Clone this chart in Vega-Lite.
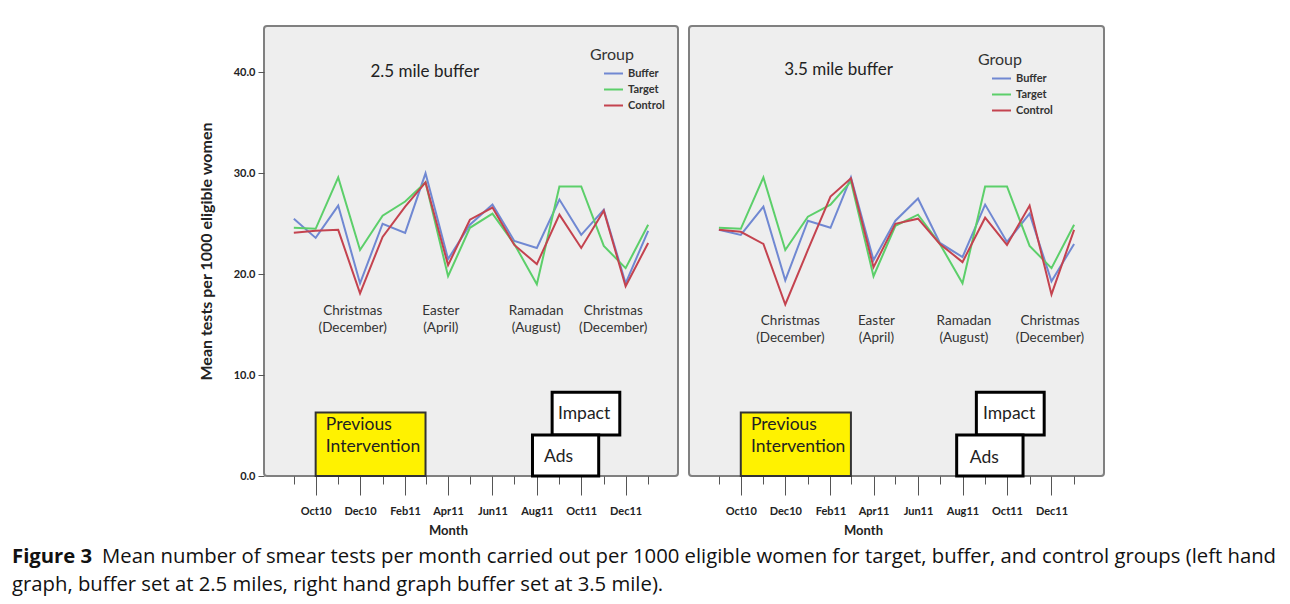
{
  "$schema": "https://vega.github.io/schema/vega-lite/v6.json",
  "background": "white",
  "padding": {"left": 12, "top": 25, "right": 0, "bottom": 8},
  "config": {
    "font": "Lato",
    "view": {"fill": "#eeeeee", "stroke": "#808080", "strokeWidth": 2, "cornerRadius": 3},
    "axis": {"domain": false, "grid": false, "tickColor": "#555555", "labelColor": "#222222", "labelFont": "Lato", "labelFontWeight": "bold", "labelFontSize": 11, "titleFont": "Lato", "titleFontWeight": "bold", "titleColor": "#222222"},
    "legend": {"orient": "none", "titleFont": "Lato", "titleFontSize": 16, "titleFontWeight": "normal", "titleColor": "#333333", "titleAnchor": "middle", "titleAlign": "right", "titlePadding": 0, "symbolType": "stroke", "symbolSize": 360, "symbolStrokeWidth": 2, "labelFont": "Lato", "labelFontSize": 11, "labelFontWeight": "bold", "labelColor": "#333333", "rowPadding": -3}
  },
  "title": {
    "text": "Figure 3",
    "subtitle": "graph, buffer set at 2.5 miles, right hand graph buffer set at 3.5 mile).",
    "orient": "bottom", "anchor": "start", "frame": "bounds", "dx": -89, "offset": -21,
    "font": "Open Sans", "fontSize": 20.3, "fontWeight": "bold", "color": "#111111",
    "subtitleFont": "Open Sans", "subtitleFontSize": 20.3, "subtitleFontWeight": "normal", "subtitleColor": "#111111",
    "subtitlePadding": 7
  },
  "datasets": {
    "series": [
      {"panel": "2.5 mile buffer", "group": "Buffer", "month": "2010-09-01", "value": 25.5},
      {"panel": "2.5 mile buffer", "group": "Buffer", "month": "2010-10-01", "value": 23.6},
      {"panel": "2.5 mile buffer", "group": "Buffer", "month": "2010-11-01", "value": 26.8},
      {"panel": "2.5 mile buffer", "group": "Buffer", "month": "2010-12-01", "value": 19.1},
      {"panel": "2.5 mile buffer", "group": "Buffer", "month": "2011-01-01", "value": 25.0},
      {"panel": "2.5 mile buffer", "group": "Buffer", "month": "2011-02-01", "value": 24.1},
      {"panel": "2.5 mile buffer", "group": "Buffer", "month": "2011-03-01", "value": 30.0},
      {"panel": "2.5 mile buffer", "group": "Buffer", "month": "2011-04-01", "value": 21.5},
      {"panel": "2.5 mile buffer", "group": "Buffer", "month": "2011-05-01", "value": 24.9},
      {"panel": "2.5 mile buffer", "group": "Buffer", "month": "2011-06-01", "value": 26.9},
      {"panel": "2.5 mile buffer", "group": "Buffer", "month": "2011-07-01", "value": 23.3},
      {"panel": "2.5 mile buffer", "group": "Buffer", "month": "2011-08-01", "value": 22.6},
      {"panel": "2.5 mile buffer", "group": "Buffer", "month": "2011-09-01", "value": 27.4},
      {"panel": "2.5 mile buffer", "group": "Buffer", "month": "2011-10-01", "value": 23.9},
      {"panel": "2.5 mile buffer", "group": "Buffer", "month": "2011-11-01", "value": 26.4},
      {"panel": "2.5 mile buffer", "group": "Buffer", "month": "2011-12-01", "value": 19.1},
      {"panel": "2.5 mile buffer", "group": "Buffer", "month": "2012-01-01", "value": 24.3},
      {"panel": "2.5 mile buffer", "group": "Target", "month": "2010-09-01", "value": 24.6},
      {"panel": "2.5 mile buffer", "group": "Target", "month": "2010-10-01", "value": 24.5},
      {"panel": "2.5 mile buffer", "group": "Target", "month": "2010-11-01", "value": 29.6},
      {"panel": "2.5 mile buffer", "group": "Target", "month": "2010-12-01", "value": 22.4},
      {"panel": "2.5 mile buffer", "group": "Target", "month": "2011-01-01", "value": 25.8},
      {"panel": "2.5 mile buffer", "group": "Target", "month": "2011-02-01", "value": 27.2},
      {"panel": "2.5 mile buffer", "group": "Target", "month": "2011-03-01", "value": 29.1},
      {"panel": "2.5 mile buffer", "group": "Target", "month": "2011-04-01", "value": 19.8},
      {"panel": "2.5 mile buffer", "group": "Target", "month": "2011-05-01", "value": 24.6},
      {"panel": "2.5 mile buffer", "group": "Target", "month": "2011-06-01", "value": 26.0},
      {"panel": "2.5 mile buffer", "group": "Target", "month": "2011-07-01", "value": 23.0},
      {"panel": "2.5 mile buffer", "group": "Target", "month": "2011-08-01", "value": 19.0},
      {"panel": "2.5 mile buffer", "group": "Target", "month": "2011-09-01", "value": 28.7},
      {"panel": "2.5 mile buffer", "group": "Target", "month": "2011-10-01", "value": 28.7},
      {"panel": "2.5 mile buffer", "group": "Target", "month": "2011-11-01", "value": 22.8},
      {"panel": "2.5 mile buffer", "group": "Target", "month": "2011-12-01", "value": 20.6},
      {"panel": "2.5 mile buffer", "group": "Target", "month": "2012-01-01", "value": 24.9},
      {"panel": "2.5 mile buffer", "group": "Control", "month": "2010-09-01", "value": 24.1},
      {"panel": "2.5 mile buffer", "group": "Control", "month": "2010-10-01", "value": 24.3},
      {"panel": "2.5 mile buffer", "group": "Control", "month": "2010-11-01", "value": 24.4},
      {"panel": "2.5 mile buffer", "group": "Control", "month": "2010-12-01", "value": 18.1},
      {"panel": "2.5 mile buffer", "group": "Control", "month": "2011-01-01", "value": 23.7},
      {"panel": "2.5 mile buffer", "group": "Control", "month": "2011-02-01", "value": 26.7},
      {"panel": "2.5 mile buffer", "group": "Control", "month": "2011-03-01", "value": 29.1},
      {"panel": "2.5 mile buffer", "group": "Control", "month": "2011-04-01", "value": 20.9},
      {"panel": "2.5 mile buffer", "group": "Control", "month": "2011-05-01", "value": 25.4},
      {"panel": "2.5 mile buffer", "group": "Control", "month": "2011-06-01", "value": 26.6},
      {"panel": "2.5 mile buffer", "group": "Control", "month": "2011-07-01", "value": 22.9},
      {"panel": "2.5 mile buffer", "group": "Control", "month": "2011-08-01", "value": 21.0},
      {"panel": "2.5 mile buffer", "group": "Control", "month": "2011-09-01", "value": 25.9},
      {"panel": "2.5 mile buffer", "group": "Control", "month": "2011-10-01", "value": 22.6},
      {"panel": "2.5 mile buffer", "group": "Control", "month": "2011-11-01", "value": 26.3},
      {"panel": "2.5 mile buffer", "group": "Control", "month": "2011-12-01", "value": 18.8},
      {"panel": "2.5 mile buffer", "group": "Control", "month": "2012-01-01", "value": 23.1},
      {"panel": "3.5 mile buffer", "group": "Buffer", "month": "2010-09-01", "value": 24.4},
      {"panel": "3.5 mile buffer", "group": "Buffer", "month": "2010-10-01", "value": 23.9},
      {"panel": "3.5 mile buffer", "group": "Buffer", "month": "2010-11-01", "value": 26.7},
      {"panel": "3.5 mile buffer", "group": "Buffer", "month": "2010-12-01", "value": 19.4},
      {"panel": "3.5 mile buffer", "group": "Buffer", "month": "2011-01-01", "value": 25.3},
      {"panel": "3.5 mile buffer", "group": "Buffer", "month": "2011-02-01", "value": 24.6},
      {"panel": "3.5 mile buffer", "group": "Buffer", "month": "2011-03-01", "value": 29.6},
      {"panel": "3.5 mile buffer", "group": "Buffer", "month": "2011-04-01", "value": 21.4},
      {"panel": "3.5 mile buffer", "group": "Buffer", "month": "2011-05-01", "value": 25.3},
      {"panel": "3.5 mile buffer", "group": "Buffer", "month": "2011-06-01", "value": 27.5},
      {"panel": "3.5 mile buffer", "group": "Buffer", "month": "2011-07-01", "value": 23.1},
      {"panel": "3.5 mile buffer", "group": "Buffer", "month": "2011-08-01", "value": 21.7},
      {"panel": "3.5 mile buffer", "group": "Buffer", "month": "2011-09-01", "value": 26.9},
      {"panel": "3.5 mile buffer", "group": "Buffer", "month": "2011-10-01", "value": 23.2},
      {"panel": "3.5 mile buffer", "group": "Buffer", "month": "2011-11-01", "value": 26.0},
      {"panel": "3.5 mile buffer", "group": "Buffer", "month": "2011-12-01", "value": 19.3},
      {"panel": "3.5 mile buffer", "group": "Buffer", "month": "2012-01-01", "value": 23.0},
      {"panel": "3.5 mile buffer", "group": "Target", "month": "2010-09-01", "value": 24.6},
      {"panel": "3.5 mile buffer", "group": "Target", "month": "2010-10-01", "value": 24.5},
      {"panel": "3.5 mile buffer", "group": "Target", "month": "2010-11-01", "value": 29.6},
      {"panel": "3.5 mile buffer", "group": "Target", "month": "2010-12-01", "value": 22.4},
      {"panel": "3.5 mile buffer", "group": "Target", "month": "2011-01-01", "value": 25.7},
      {"panel": "3.5 mile buffer", "group": "Target", "month": "2011-02-01", "value": 26.9},
      {"panel": "3.5 mile buffer", "group": "Target", "month": "2011-03-01", "value": 29.2},
      {"panel": "3.5 mile buffer", "group": "Target", "month": "2011-04-01", "value": 19.8},
      {"panel": "3.5 mile buffer", "group": "Target", "month": "2011-05-01", "value": 24.8},
      {"panel": "3.5 mile buffer", "group": "Target", "month": "2011-06-01", "value": 25.9},
      {"panel": "3.5 mile buffer", "group": "Target", "month": "2011-07-01", "value": 23.0},
      {"panel": "3.5 mile buffer", "group": "Target", "month": "2011-08-01", "value": 19.1},
      {"panel": "3.5 mile buffer", "group": "Target", "month": "2011-09-01", "value": 28.7},
      {"panel": "3.5 mile buffer", "group": "Target", "month": "2011-10-01", "value": 28.7},
      {"panel": "3.5 mile buffer", "group": "Target", "month": "2011-11-01", "value": 22.8},
      {"panel": "3.5 mile buffer", "group": "Target", "month": "2011-12-01", "value": 20.6},
      {"panel": "3.5 mile buffer", "group": "Target", "month": "2012-01-01", "value": 24.9},
      {"panel": "3.5 mile buffer", "group": "Control", "month": "2010-09-01", "value": 24.4},
      {"panel": "3.5 mile buffer", "group": "Control", "month": "2010-10-01", "value": 24.2},
      {"panel": "3.5 mile buffer", "group": "Control", "month": "2010-11-01", "value": 23.0},
      {"panel": "3.5 mile buffer", "group": "Control", "month": "2010-12-01", "value": 17.0},
      {"panel": "3.5 mile buffer", "group": "Control", "month": "2011-01-01", "value": 22.4},
      {"panel": "3.5 mile buffer", "group": "Control", "month": "2011-02-01", "value": 27.7},
      {"panel": "3.5 mile buffer", "group": "Control", "month": "2011-03-01", "value": 29.5},
      {"panel": "3.5 mile buffer", "group": "Control", "month": "2011-04-01", "value": 20.7},
      {"panel": "3.5 mile buffer", "group": "Control", "month": "2011-05-01", "value": 25.0},
      {"panel": "3.5 mile buffer", "group": "Control", "month": "2011-06-01", "value": 25.5},
      {"panel": "3.5 mile buffer", "group": "Control", "month": "2011-07-01", "value": 23.0},
      {"panel": "3.5 mile buffer", "group": "Control", "month": "2011-08-01", "value": 21.2},
      {"panel": "3.5 mile buffer", "group": "Control", "month": "2011-09-01", "value": 25.6},
      {"panel": "3.5 mile buffer", "group": "Control", "month": "2011-10-01", "value": 22.9},
      {"panel": "3.5 mile buffer", "group": "Control", "month": "2011-11-01", "value": 26.8},
      {"panel": "3.5 mile buffer", "group": "Control", "month": "2011-12-01", "value": 18.0},
      {"panel": "3.5 mile buffer", "group": "Control", "month": "2012-01-01", "value": 24.4}
    ],
    "events": [
      {"panel": "2.5 mile buffer", "event": "Christmas\n(December)", "month": "2010-11-21", "value": 16.34},
      {"panel": "2.5 mile buffer", "event": "Easter\n(April)", "month": "2011-03-22", "value": 16.34},
      {"panel": "2.5 mile buffer", "event": "Ramadan\n(August)", "month": "2011-07-31", "value": 16.34},
      {"panel": "2.5 mile buffer", "event": "Christmas\n(December)", "month": "2011-11-14", "value": 16.34},
      {"panel": "3.5 mile buffer", "event": "Christmas\n(December)", "month": "2010-12-08", "value": 15.35},
      {"panel": "3.5 mile buffer", "event": "Easter\n(April)", "month": "2011-04-05", "value": 15.35},
      {"panel": "3.5 mile buffer", "event": "Ramadan\n(August)", "month": "2011-08-03", "value": 15.35},
      {"panel": "3.5 mile buffer", "event": "Christmas\n(December)", "month": "2011-11-29", "value": 15.35}
    ],
    "boxes": [
      {"panel": "2.5 mile buffer", "box": "Previous Intervention", "start": "2010-10-01", "end": "2011-03-01", "low": 0, "high": 6.3},
      {"panel": "2.5 mile buffer", "box": "Impact", "start": "2011-08-22", "end": "2011-11-23", "low": 4.06, "high": 8.3},
      {"panel": "2.5 mile buffer", "box": "Ads", "start": "2011-07-26", "end": "2011-10-25", "low": 0, "high": 4.06},
      {"panel": "3.5 mile buffer", "box": "Previous Intervention", "start": "2010-10-01", "end": "2011-03-01", "low": 0, "high": 6.3},
      {"panel": "3.5 mile buffer", "box": "Impact", "start": "2011-08-20", "end": "2011-11-21", "low": 4.06, "high": 8.3},
      {"panel": "3.5 mile buffer", "box": "Ads", "start": "2011-07-24", "end": "2011-10-23", "low": 0, "high": 4.06}
    ],
    "labels": [
      {"panel": "2.5 mile buffer", "label": "Previous\nIntervention", "month": "2010-10-15", "value": 5.05},
      {"panel": "2.5 mile buffer", "label": "Impact", "month": "2011-08-30", "value": 6.14},
      {"panel": "2.5 mile buffer", "label": "Ads", "month": "2011-08-11", "value": 1.88},
      {"panel": "3.5 mile buffer", "label": "Previous\nIntervention", "month": "2010-10-15", "value": 5.05},
      {"panel": "3.5 mile buffer", "label": "Impact", "month": "2011-08-29", "value": 6.14},
      {"panel": "3.5 mile buffer", "label": "Ads", "month": "2011-08-11", "value": 1.78}
    ],
    "titles": [
      {"panel": "2.5 mile buffer", "month": "2011-02-28", "value": 40.0},
      {"panel": "3.5 mile buffer", "month": "2011-02-12", "value": 40.2}
    ]
  },
  "hconcat": [
    {
      "width": 414, "height": 450,
      "title": {"text": "Mean number of smear tests per month carried out per 1000 eligible women for target, buffer, and control groups (left hand", "orient": "bottom", "anchor": "start", "frame": "group", "dx": -162, "offset": 10, "font": "Open Sans", "fontSize": 20.3, "fontWeight": "normal", "color": "#111111"},
      "resolve": {"axis": {"x": "independent"}},
      "layer": [
        {
          "data": {"name": "series"},
          "transform": [{"filter": "datum.panel == '2.5 mile buffer'"}],
          "mark": {"type": "line", "strokeWidth": 2},
          "encoding": {
            "x": {"field": "month", "type": "temporal",
              "scale": {"type": "utc", "domain": [{"year": 2010, "month": 7, "date": 22, "utc": true}, {"year": 2012, "month": 2, "date": 11, "utc": true}]},
              "axis": {"orient": "bottom", "title": "Month", "titleFontSize": 13, "titlePadding": 8, "titleX": 184, "labelFontSize": 11, "labelPadding": 10, "tickSize": 19, "labelOverlap": false, "labelFlush": false, "labelBound": false, "format": "%b%y",
                "values": [{"year": 2010, "month": 10, "date": 1, "utc": true}, {"year": 2010, "month": 12, "date": 1, "utc": true}, {"year": 2011, "month": 2, "date": 1, "utc": true}, {"year": 2011, "month": 4, "date": 1, "utc": true}, {"year": 2011, "month": 6, "date": 1, "utc": true}, {"year": 2011, "month": 8, "date": 1, "utc": true}, {"year": 2011, "month": 10, "date": 1, "utc": true}, {"year": 2011, "month": 12, "date": 1, "utc": true}]}},
            "y": {"field": "value", "type": "quantitative", "scale": {"domain": [0, 44.6], "nice": false},
              "axis": {"values": [0, 10, 20, 30, 40], "format": ".1f", "tickSize": 6, "labelPadding": 3, "title": "Mean tests per 1000 eligible women", "titleFontSize": 16, "titlePadding": 19}},
            "color": {"field": "group", "type": "nominal", "scale": {"domain": ["Buffer", "Target", "Control"], "range": ["#7088d2", "#5ccf6a", "#c4434f"]},
              "legend": {"title": "Group", "legendX": 326, "legendY": 21}}
          }
        },
        {
          "data": {"name": "events"},
          "transform": [{"filter": "datum.panel == '2.5 mile buffer'"}],
          "mark": {"type": "text", "lineBreak": "\n", "fontSize": 13.5, "color": "#333333", "align": "center", "baseline": "middle", "lineHeight": 17},
          "encoding": {
            "x": {"field": "month", "type": "temporal",
              "axis": {"orient": "bottom", "title": null, "labels": false, "tickSize": 8,
                "values": [{"year": 2010, "month": 9, "date": 1, "utc": true}, {"year": 2010, "month": 11, "date": 1, "utc": true}, {"year": 2011, "month": 1, "date": 1, "utc": true}, {"year": 2011, "month": 3, "date": 1, "utc": true}, {"year": 2011, "month": 5, "date": 1, "utc": true}, {"year": 2011, "month": 7, "date": 1, "utc": true}, {"year": 2011, "month": 9, "date": 1, "utc": true}, {"year": 2011, "month": 11, "date": 1, "utc": true}, {"year": 2012, "month": 1, "date": 1, "utc": true}]}},
            "y": {"field": "value", "type": "quantitative"},
            "text": {"field": "event"}
          }
        },
        {
          "data": {"name": "boxes"},
          "transform": [{"filter": "datum.panel == '2.5 mile buffer' && datum.box == 'Previous Intervention'"}],
          "mark": {"type": "rect", "fill": "#fff200", "stroke": "#333333", "strokeWidth": 2},
          "encoding": {
            "x": {"field": "start", "type": "temporal", "axis": null}, "x2": {"field": "end"},
            "y": {"field": "low", "type": "quantitative"}, "y2": {"field": "high"}
          }
        },
        {
          "data": {"name": "boxes"},
          "transform": [{"filter": "datum.panel == '2.5 mile buffer' && datum.box != 'Previous Intervention'"}],
          "mark": {"type": "rect", "fill": "white", "stroke": "black", "strokeWidth": 3},
          "encoding": {
            "x": {"field": "start", "type": "temporal", "axis": null}, "x2": {"field": "end"},
            "y": {"field": "low", "type": "quantitative"}, "y2": {"field": "high"}
          }
        },
        {
          "data": {"name": "labels"},
          "transform": [{"filter": "datum.panel == '2.5 mile buffer'"}],
          "mark": {"type": "text", "lineBreak": "\n", "fontSize": 17.5, "color": "#222222", "align": "left", "baseline": "middle", "lineHeight": 22},
          "encoding": {
            "x": {"field": "month", "type": "temporal", "axis": null},
            "y": {"field": "value", "type": "quantitative"},
            "text": {"field": "label"}
          }
        },
        {
          "data": {"name": "titles"},
          "transform": [{"filter": "datum.panel == '2.5 mile buffer'"}],
          "mark": {"type": "text", "fontSize": 17, "color": "#222222", "align": "center", "baseline": "middle"},
          "encoding": {
            "x": {"field": "month", "type": "temporal", "axis": null},
            "y": {"field": "value", "type": "quantitative"},
            "text": {"field": "panel"}
          }
        }
      ]
    },
    {
      "width": 415, "height": 450,
      "resolve": {"axis": {"x": "independent"}},
      "layer": [
        {
          "data": {"name": "series"},
          "transform": [{"filter": "datum.panel == '3.5 mile buffer'"}],
          "mark": {"type": "line", "strokeWidth": 2},
          "encoding": {
            "x": {"field": "month", "type": "temporal",
              "scale": {"type": "utc", "domain": [{"year": 2010, "month": 7, "date": 22, "utc": true}, {"year": 2012, "month": 2, "date": 11, "utc": true}]},
              "axis": {"orient": "bottom", "title": "Month", "titleFontSize": 13, "titlePadding": 8, "titleX": 174, "labelFontSize": 11, "labelPadding": 10, "tickSize": 19, "labelOverlap": false, "labelFlush": false, "labelBound": false, "format": "%b%y",
                "values": [{"year": 2010, "month": 10, "date": 1, "utc": true}, {"year": 2010, "month": 12, "date": 1, "utc": true}, {"year": 2011, "month": 2, "date": 1, "utc": true}, {"year": 2011, "month": 4, "date": 1, "utc": true}, {"year": 2011, "month": 6, "date": 1, "utc": true}, {"year": 2011, "month": 8, "date": 1, "utc": true}, {"year": 2011, "month": 10, "date": 1, "utc": true}, {"year": 2011, "month": 12, "date": 1, "utc": true}]}},
            "y": {"field": "value", "type": "quantitative", "scale": {"domain": [0, 44.6], "nice": false}, "axis": null},
            "color": {"field": "group", "type": "nominal", "scale": {"domain": ["Buffer", "Target", "Control"], "range": ["#7088d2", "#5ccf6a", "#c4434f"]},
              "legend": {"title": "Group", "legendX": 289, "legendY": 26}}
          }
        },
        {
          "data": {"name": "events"},
          "transform": [{"filter": "datum.panel == '3.5 mile buffer'"}],
          "mark": {"type": "text", "lineBreak": "\n", "fontSize": 13.5, "color": "#333333", "align": "center", "baseline": "middle", "lineHeight": 17},
          "encoding": {
            "x": {"field": "month", "type": "temporal",
              "axis": {"orient": "bottom", "title": null, "labels": false, "tickSize": 8,
                "values": [{"year": 2010, "month": 9, "date": 1, "utc": true}, {"year": 2010, "month": 11, "date": 1, "utc": true}, {"year": 2011, "month": 1, "date": 1, "utc": true}, {"year": 2011, "month": 3, "date": 1, "utc": true}, {"year": 2011, "month": 5, "date": 1, "utc": true}, {"year": 2011, "month": 7, "date": 1, "utc": true}, {"year": 2011, "month": 9, "date": 1, "utc": true}, {"year": 2011, "month": 11, "date": 1, "utc": true}, {"year": 2012, "month": 1, "date": 1, "utc": true}]}},
            "y": {"field": "value", "type": "quantitative"},
            "text": {"field": "event"}
          }
        },
        {
          "data": {"name": "boxes"},
          "transform": [{"filter": "datum.panel == '3.5 mile buffer' && datum.box == 'Previous Intervention'"}],
          "mark": {"type": "rect", "fill": "#fff200", "stroke": "#333333", "strokeWidth": 2},
          "encoding": {
            "x": {"field": "start", "type": "temporal", "axis": null}, "x2": {"field": "end"},
            "y": {"field": "low", "type": "quantitative"}, "y2": {"field": "high"}
          }
        },
        {
          "data": {"name": "boxes"},
          "transform": [{"filter": "datum.panel == '3.5 mile buffer' && datum.box != 'Previous Intervention'"}],
          "mark": {"type": "rect", "fill": "white", "stroke": "black", "strokeWidth": 3},
          "encoding": {
            "x": {"field": "start", "type": "temporal", "axis": null}, "x2": {"field": "end"},
            "y": {"field": "low", "type": "quantitative"}, "y2": {"field": "high"}
          }
        },
        {
          "data": {"name": "labels"},
          "transform": [{"filter": "datum.panel == '3.5 mile buffer'"}],
          "mark": {"type": "text", "lineBreak": "\n", "fontSize": 17.5, "color": "#222222", "align": "left", "baseline": "middle", "lineHeight": 22},
          "encoding": {
            "x": {"field": "month", "type": "temporal", "axis": null},
            "y": {"field": "value", "type": "quantitative"},
            "text": {"field": "label"}
          }
        },
        {
          "data": {"name": "titles"},
          "transform": [{"filter": "datum.panel == '3.5 mile buffer'"}],
          "mark": {"type": "text", "fontSize": 17, "color": "#222222", "align": "center", "baseline": "middle"},
          "encoding": {
            "x": {"field": "month", "type": "temporal", "axis": null},
            "y": {"field": "value", "type": "quantitative"},
            "text": {"field": "panel"}
          }
        }
      ]
    }
  ],
  "spacing": 11,
  "bounds": "flush",
  "resolve": {"scale": {"color": "independent"}, "legend": {"color": "independent"}}
}
